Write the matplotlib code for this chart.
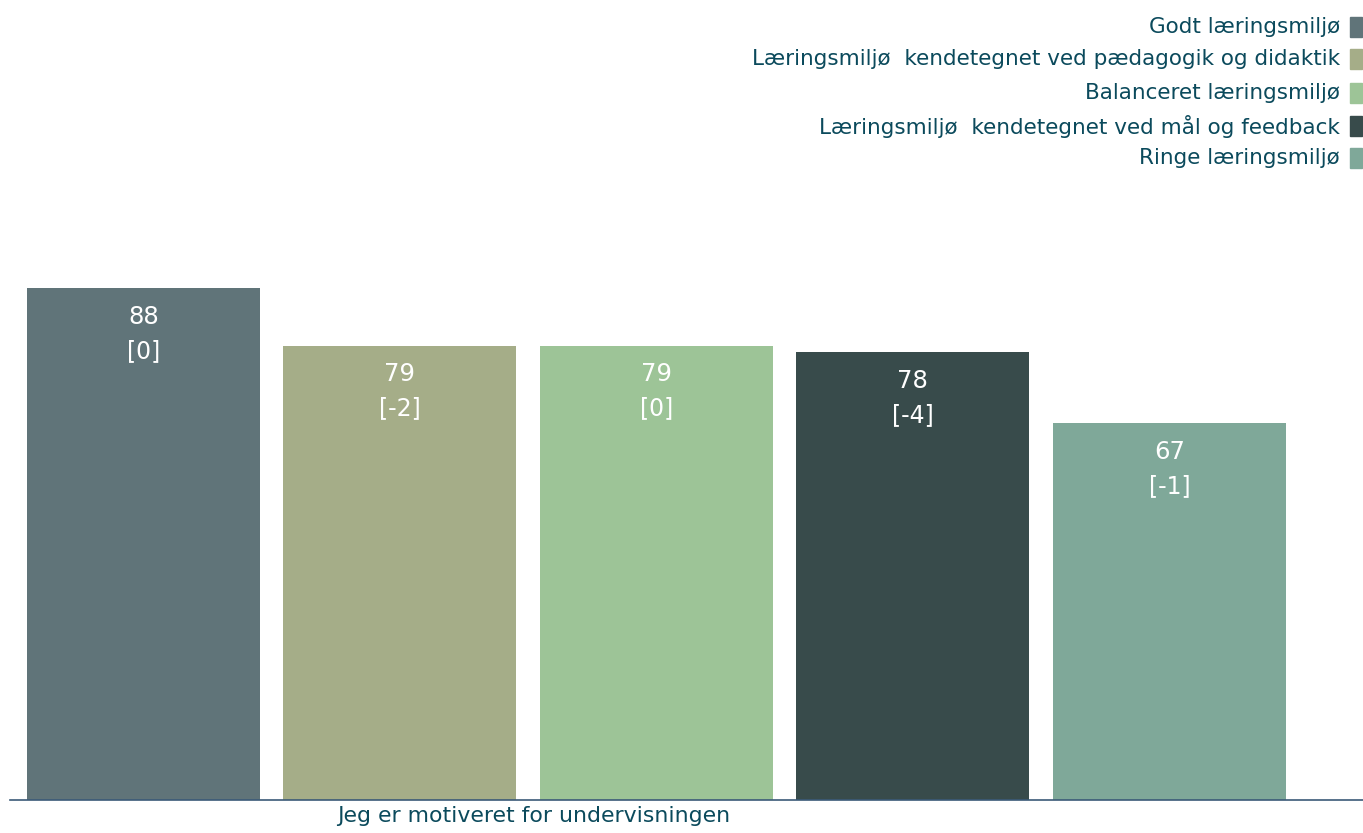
import matplotlib.pyplot as plt
from matplotlib.patches import Rectangle

plt.rcParams['font.family'] = ['DejaVu Sans']

groups = ['Godt læringsmiljø',
          'Læringsmiljø  kendetegnet ved pædagogik og didaktik',
          'Balanceret læringsmiljø',
          'Læringsmiljø  kendetegnet ved mål og feedback',
          'Ringe læringsmiljø']
values = [88, 79, 79, 78, 67]
changes = [0, -2, 0, -4, -1]
colors = ['#607479', '#A5AD88', '#9DC497', '#384B4B', '#7FA899']
question = 'Jeg er motiveret for undervisningen'
text_color = '#0B4A5C'

fig = plt.figure(figsize=(13.63, 8.33), dpi=100)
ax = fig.add_axes([10/1363, 33/833, 1353/1363, 600/833])

x = list(range(len(values)))
bars = ax.bar(x, values, width=0.908, color=colors, zorder=2)
ax.set_xlim(-0.52, 4.755)
ax.set_ylim(8.4, 101.7)

for b, v, c in zip(bars, values, changes):
    cx = b.get_x() + b.get_width()/2
    ax.annotate(str(v), (cx, v), xytext=(0, -20.5), textcoords='offset points',
                ha='center', va='center', color='white', fontsize=17.5)
    ax.annotate('[%d]' % c, (cx, v), xytext=(0, -45), textcoords='offset points',
                ha='center', va='center', color='white', fontsize=17)

for s in ['top', 'right', 'left']:
    ax.spines[s].set_visible(False)
ax.spines['bottom'].set_color('#3B5A78')
ax.spines['bottom'].set_linewidth(1.2)
ax.set_yticks([])
ax.set_xticks([1.52])
ax.set_xticklabels([question], fontsize=15.8, color=text_color)
ax.tick_params(axis='x', length=0, pad=4)

# legend, right aligned, patch on the right
row_y = [27, 59, 93, 126, 158]
for name, col, yy in zip(groups, colors, row_y):
    fig.text(1340/1363, 1 - yy/833, name, ha='right', va='center',
             fontsize=15.5, color=text_color)
    fig.patches.append(Rectangle((1350/1363, 1 - (yy+10)/833), 12/1363, 20/833,
                                 transform=fig.transFigure, color=col, figure=fig))

fig.savefig('out.png', dpi=100)
